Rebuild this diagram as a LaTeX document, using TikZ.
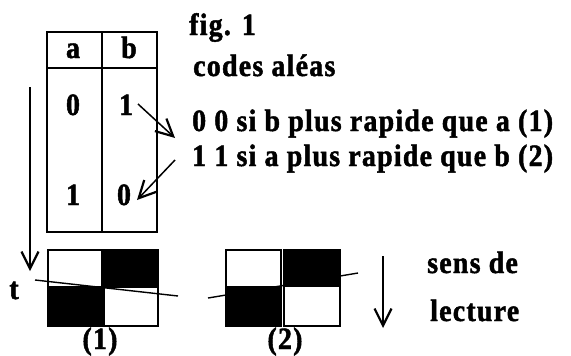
\documentclass[tikz,border=0pt]{standalone}
\usepackage{fontspec}
\setmainfont{Liberation Serif}[BoldFeatures={FakeBold=1.5,FakeStretch=0.9,LetterSpace=4}]
\usetikzlibrary{arrows.meta}
\begin{document}
\begin{tikzpicture}[x=1pt,y=-1pt,
  txt/.style={inner sep=0pt,anchor=base,font=\fontsize{31}{33}\selectfont\bfseries},
  ltxt/.style={txt,anchor=base west},
  frame/.style={line width=1.8pt},
  arr/.style={line width=1.5pt,-{Straight Barb[length=17pt,width=17pt,line width=2.2pt]}},
  tline/.style={line width=1.4pt},
  blk/.style={fill=black}]
\useasboundingbox (0,0) rectangle (571,356);
% table
\draw[frame] (47,32) rectangle (157,232);
\draw[frame] (47,68) -- (157,68);
\draw[frame] (102,32) -- (102,232);
\node[txt] (ha) at (73,58) {a};
\node[txt] (hb) at (129,58) {b};
\node[txt] (a1) at (73,115) {0};
\node[txt] (b1) at (126,115) {1};
\node[txt] (a2) at (73,205) {1};
\node[txt] (b2) at (124,205) {0};
% texts
\node[ltxt] (fig) at (189,35) {fig. 1};
\node[ltxt] (codes) at (193,76) {codes aléas};
\node[ltxt] (l1) at (192,131) {0 0 si b plus rapide que a (1)};
\node[ltxt] (l2) at (192,166) {1 1 si a plus rapide que b (2)};
\coordinate (t1) at (175,138);
\coordinate (s2) at (175,160);
\draw[arr] (138,104) -- (t1);
\draw[arr] (s2) -- (137,200);
% time arrow
\coordinate (ta) at (30,87);
\coordinate (tb) at (30,271);
\draw[arr] (ta) -- (tb);
\node[txt] (t) at (14,299) {t};
% grid 1
\fill[blk] (102,250) rectangle (158,287);
\fill[blk] (48,287) rectangle (104,326);
\draw[frame] (48,250) rectangle (158,326);
\draw[frame] (102,250) -- (102,287);
\draw[frame] (104,287) -- (104,326);
\draw[frame] (48,287) -- (158,287);
\coordinate (p1) at (35,280);
\coordinate (p2) at (178,296);
\draw[tline] (p1) -- (p2);
\node[txt] (c1) at (100,349) {(1)};
% grid 2
\fill[blk] (284,250) rectangle (340,286);
\fill[blk] (226,287) rectangle (281,326);
\draw[frame] (226,250) rectangle (281,326);
\draw[frame] (284,250) rectangle (340,326);
\draw[frame] (226,287) -- (281,287);
\draw[frame] (284,286) -- (340,286);
\coordinate (q1) at (208,298);
\coordinate (q2) at (358,273);
\draw[tline] (q1) -- (q2);
\node[txt] (c2) at (285,349) {(2)};
% reading direction
\coordinate (ra) at (383,256);
\coordinate (rb) at (383,328);
\draw[arr] (ra) -- (rb);
\node[ltxt] (sens) at (427,273) {sens de};
\node[ltxt] (lect) at (430,321) {lecture};
\end{tikzpicture}
\end{document}
